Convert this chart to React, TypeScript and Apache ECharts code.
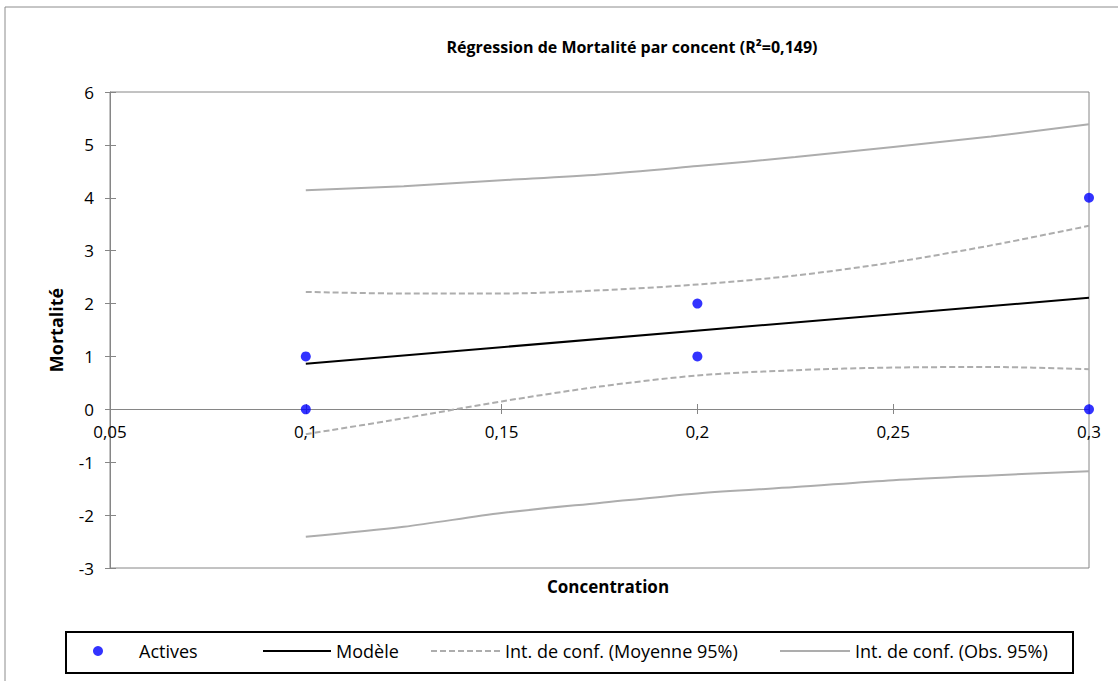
import React, { useEffect, useRef } from "react";
import * as echarts from "echarts";

const activesX = [0.1, 0.1, 0.2, 0.2, 0.3, 0.3];
const activesY = [1, 0, 2, 1, 4, 0];

const modelX = [0.1, 0.3];
const modelY = [0.864, 2.11];

const ciX = [0.1, 0.125, 0.15, 0.175, 0.2, 0.225, 0.25, 0.275, 0.3];
const meanUpper = [2.22, 2.19, 2.19, 2.25, 2.36, 2.53, 2.78, 3.1, 3.47];
const meanLower = [-0.47, -0.17, 0.15, 0.43, 0.64, 0.74, 0.79, 0.8, 0.76];
const obsUpper = [4.14, 4.22, 4.33, 4.44, 4.6, 4.77, 4.96, 5.16, 5.39];
const obsLower = [-2.41, -2.22, -1.96, -1.77, -1.59, -1.47, -1.34, -1.25, -1.17];

const titleText = "Régression de Mortalité par concent (R²=0,149)";
const xName = "Concentration";
const yName = "Mortalité";
const seriesNames = ["Actives", "Modèle", "Int. de conf. (Moyenne 95%)", "Int. de conf. (Obs. 95%)"];

const FONT = "'Open Sans', 'Liberation Sans', sans-serif";
const AXIS_GRAY = "#868686";
const CI_GRAY = "#ADADAD";

const zip = (xs: number[], ys: number[]) => xs.map((x, i) => [x, ys[i]]);
const fmt = (v: number) => String(Math.round(v * 100) / 100).replace(".", ",");

export default function App() {
  const ref = useRef<HTMLDivElement>(null);
  useEffect(() => {
    if (!ref.current) return;
    const chart = echarts.init(ref.current, null, { renderer: "svg" });
    const legendBase = {
      orient: "horizontal",
      padding: 0,
      top: 642,
      itemHeight: 10,
      textStyle: { fontFamily: FONT, fontSize: 18, color: "#000" },
      selectedMode: false,
    };
    const lineLegend = (left: number, width: number, name: string, type: any) => ({
      ...legendBase,
      left,
      itemWidth: width,
      data: [name],
      itemStyle: { opacity: 0 },
      lineStyle: { color: name === seriesNames[1] ? "#000" : CI_GRAY, width: 2, type },
    });
    const xRange = { type: "value", min: 0.05, max: 0.3, interval: 0.05, splitLine: { show: false } };
    chart.setOption({
      animation: false,
      backgroundColor: "#fff",
      grid: [
        {
          left: 110,
          top: 92,
          right: 29,
          bottom: 113,
          show: true,
          borderColor: AXIS_GRAY,
          borderWidth: 1,
          backgroundColor: "transparent",
        },
        // upper half of the plot: its bottom edge sits on y = 0, carrying the x labels
        { left: 110, top: 92, right: 29, height: 317, show: false },
      ],
      xAxis: [
        {
          ...xRange,
          gridIndex: 0,
          show: false,
          axisLine: { show: false, onZero: false },
        },
        {
          ...xRange,
          gridIndex: 1,
          position: "bottom",
          axisLine: { show: true, onZero: false, lineStyle: { color: AXIS_GRAY, width: 1 } },
          axisTick: { show: true, inside: false, length: 5, lineStyle: { color: AXIS_GRAY } },
          axisLabel: { formatter: fmt, fontFamily: FONT, fontSize: 17, color: "#000", margin: 14 },
        },
        {
          ...xRange,
          gridIndex: 1,
          position: "bottom",
          axisLine: { show: false, onZero: false },
          axisTick: { show: true, inside: true, length: 5, lineStyle: { color: AXIS_GRAY } },
          axisLabel: { show: false },
        },
      ],
      yAxis: [
        {
          type: "value",
          gridIndex: 0,
          min: -3,
          max: 6,
          interval: 1,
          position: "left",
          name: yName,
          nameLocation: "middle",
          nameGap: 45,
          nameRotate: 90,
          nameTextStyle: { fontFamily: FONT, fontSize: 18, fontWeight: "bold", color: "#000" },
          axisLine: { show: true, onZero: false, lineStyle: { color: AXIS_GRAY, width: 1 } },
          axisTick: { show: true, inside: false, length: 5, lineStyle: { color: AXIS_GRAY } },
          axisLabel: { fontFamily: FONT, fontSize: 17, color: "#000", margin: 16 },
          splitLine: { show: false },
        },
        {
          type: "value",
          gridIndex: 0,
          min: -3,
          max: 6,
          interval: 1,
          position: "left",
          offset: 0,
          axisLine: { show: false, onZero: false },
          axisTick: { show: true, inside: true, length: 6, lineStyle: { color: AXIS_GRAY } },
          axisLabel: { show: false },
          splitLine: { show: false },
        },
        {
          type: "value",
          gridIndex: 1,
          min: 0,
          max: 6,
          show: false,
          axisLine: { onZero: false },
        },
      ],
      legend: [
        { ...legendBase, left: 93, itemWidth: 72, data: [{ name: seriesNames[0], icon: "circle" }] },
        lineLegend(262, 68, seriesNames[1], "solid"),
        lineLegend(430, 69, seriesNames[2], [6, 3]),
        lineLegend(779, 70, seriesNames[3], "solid"),
      ],
      graphic: [
        {
          type: "rect",
          silent: true,
          shape: { x: 5, y: 7, width: 2000, height: 2000 },
          style: { fill: "none", stroke: "#8C8C8C", lineWidth: 1 },
          z: -10,
        },
        {
          type: "rect",
          silent: true,
          shape: { x: 66, y: 632, width: 1007, height: 41 },
          style: { fill: "none", stroke: "#000", lineWidth: 2 },
        },
        {
          type: "text",
          silent: true,
          x: 632,
          y: 47,
          style: {
            text: titleText,
            fontFamily: FONT,
            fontSize: 16,
            fontWeight: "bold",
            fill: "#000",
            align: "center",
            verticalAlign: "middle",
          },
        },
        {
          type: "text",
          silent: true,
          x: 608,
          y: 586,
          style: {
            text: xName,
            fontFamily: FONT,
            fontSize: 17,
            fontWeight: "bold",
            fill: "#000",
            align: "center",
            verticalAlign: "middle",
          },
        },
      ],
      series: [
        {
          name: seriesNames[3],
          type: "line",
          data: zip(ciX, obsUpper),
          smooth: 0.3,
          symbol: "none",
          lineStyle: { color: CI_GRAY, width: 2 },
          itemStyle: { color: CI_GRAY },
          z: 2,
        },
        {
          name: seriesNames[3],
          type: "line",
          data: zip(ciX, obsLower),
          smooth: 0.3,
          symbol: "none",
          lineStyle: { color: CI_GRAY, width: 2 },
          itemStyle: { color: CI_GRAY },
          z: 2,
        },
        {
          name: seriesNames[2],
          type: "line",
          data: zip(ciX, meanUpper),
          smooth: 0.3,
          symbol: "none",
          lineStyle: { color: CI_GRAY, width: 2, type: [6, 3] },
          itemStyle: { color: CI_GRAY },
          z: 2,
        },
        {
          name: seriesNames[2],
          type: "line",
          data: zip(ciX, meanLower),
          smooth: 0.3,
          symbol: "none",
          lineStyle: { color: CI_GRAY, width: 2, type: [6, 3] },
          itemStyle: { color: CI_GRAY },
          z: 2,
        },
        {
          name: seriesNames[1],
          type: "line",
          data: zip(modelX, modelY),
          symbol: "none",
          lineStyle: { color: "#000", width: 2 },
          itemStyle: { color: "#000" },
          z: 3,
        },
        {
          name: seriesNames[0],
          type: "scatter",
          data: zip(activesX, activesY),
          symbol: "circle",
          symbolSize: 10,
          itemStyle: { color: "#0000FF" },
          z: 4,
        },
      ],
    });
    return () => chart.dispose();
  }, []);
  return (
    <div
      ref={ref}
      style={{ position: "absolute", left: 0, top: 0, width: 1118, height: 681 }}
    />
  );
}
